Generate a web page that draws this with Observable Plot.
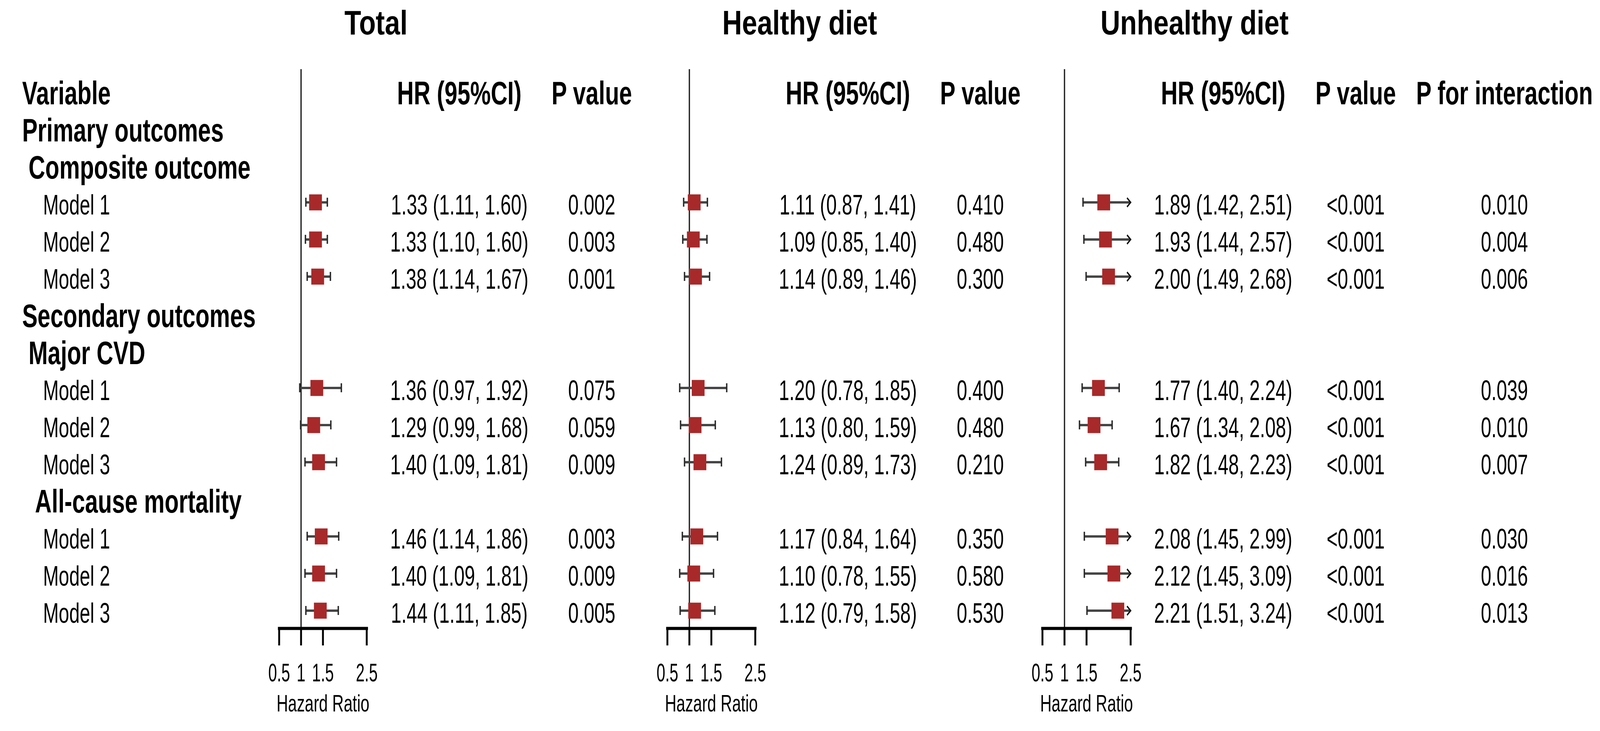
<!DOCTYPE html>
<html>
<head>
<meta charset="utf-8">
<script src="https://cdn.jsdelivr.net/npm/d3@7"></script>
<script src="https://cdn.jsdelivr.net/npm/@observablehq/plot@0.6"></script>
<style>
  html, body { margin: 0; padding: 0; background: #fff; overflow: hidden; }
  #chart { position: absolute; left: 0; top: 0; width: 5098px; height: 1871px; overflow: hidden;
           background: #fff; transform-origin: 0 0; }
  #chart > svg { position: absolute; left: 0; top: 0; }
  .title { position: absolute; white-space: nowrap; transform: translateX(-50%);
           font-family: "Liberation Sans", Arial, sans-serif; font-weight: bold; color: #000;
           font-size: 87px; line-height: 87px; top: 14px; }
</style>
</head>
<body>
<div id="chart"></div>
<script>
// ---------------- data ----------------
const rowLabels = [
  "Variable",
  "Primary outcomes",
  " Composite outcome",
  "    Model 1",
  "    Model 2",
  "    Model 3",
  "Secondary outcomes",
  " Major CVD",
  "    Model 1",
  "    Model 2",
  "    Model 3",
  "  All-cause mortality",
  "    Model 1",
  "    Model 2",
  "    Model 3"
];
const panelTitles = ["Total", "Healthy diet", "Unhealthy diet"];
const columnHeaders = ["HR (95%CI)", "P value", "P for interaction"];
const axisTicks = [0.5, 1, 1.5, 2.5];
const axisTitle = "Hazard Ratio";
const nullEffect = 1;

const totalHR    = [1.33, 1.33, 1.38, 1.36, 1.29, 1.40, 1.46, 1.40, 1.44];
const totalLower = [1.11, 1.10, 1.14, 0.97, 0.99, 1.09, 1.14, 1.09, 1.11];
const totalUpper = [1.60, 1.60, 1.67, 1.92, 1.68, 1.81, 1.86, 1.81, 1.85];
const totalP     = ["0.002", "0.003", "0.001", "0.075", "0.059", "0.009", "0.003", "0.009", "0.005"];

const healthyHR    = [1.11, 1.09, 1.14, 1.20, 1.13, 1.24, 1.17, 1.10, 1.12];
const healthyLower = [0.87, 0.85, 0.89, 0.78, 0.80, 0.89, 0.84, 0.78, 0.79];
const healthyUpper = [1.41, 1.40, 1.46, 1.85, 1.59, 1.73, 1.64, 1.55, 1.58];
const healthyP     = ["0.410", "0.480", "0.300", "0.400", "0.480", "0.210", "0.350", "0.580", "0.530"];

const unhealthyHR    = [1.89, 1.93, 2.00, 1.77, 1.67, 1.82, 2.08, 2.12, 2.21];
const unhealthyLower = [1.42, 1.44, 1.49, 1.40, 1.34, 1.48, 1.45, 1.45, 1.51];
const unhealthyUpper = [2.51, 2.57, 2.68, 2.24, 2.08, 2.23, 2.99, 3.09, 3.24];
const unhealthyP     = ["<0.001", "<0.001", "<0.001", "<0.001", "<0.001", "<0.001", "<0.001", "<0.001", "<0.001"];
const interactionP   = ["0.010", "0.004", "0.006", "0.039", "0.010", "0.007", "0.030", "0.016", "0.013"];

// ---------------- layout & style (reference pixels; the whole figure is fitted to the window) ----------------
const W = 5098, H = 1871;
const ROW0 = 232, ROWSTEP = 95;
const FRAME_TOP = 177, AXIS_Y = 1608;
const panelLayout = [
  {left: 889,  right: 1168, titleX: 1198},
  {left: 2126, right: 2406, titleX: 2548},
  {left: 3321, right: 3602, titleX: 3806}
];
const COL_DX = [295, 717, 1191];

function fontAvailable(name) {
  const ctx = document.createElement("canvas").getContext("2d");
  const str = "abcdefghijklmnopqrstuvwxyz ABCDEFGHIJKLM 0123456789";
  ctx.font = "72px monospace";
  const a = ctx.measureText(str).width;
  ctx.font = `72px "${name}", monospace`;
  const b = ctx.measureText(str).width;
  return Math.abs(a - b) > 0.5;
}
const narrow = fontAvailable("Liberation Sans Narrow");
const FONT = narrow ? '"Liberation Sans Narrow", "Arial Narrow", sans-serif' : '"Liberation Sans", Arial, sans-serif';
const k = narrow ? 1 / 0.82 : 1;
const fs = {reg: 60 * k, bold: 73.6 * k, tick: 50 * k, axisTitle: 50.7 * k};
const dyReg = narrow ? 8 : 7.6, dyBold = narrow ? 5 : 6.7;

const chart = document.getElementById("chart");
function fit() {
  const vw = window.innerWidth || document.documentElement.clientWidth || W;
  const vh = window.innerHeight || document.documentElement.clientHeight || H;
  chart.style.transform = `scale(${vw / W}, ${vh / H})`;
}
fit();
window.addEventListener("resize", fit);

const rows = d3.range(rowLabels.length);
const yScale = {
  type: "band", domain: rows, padding: 0, axis: null,
  range: [ROW0 - ROWSTEP / 2, ROW0 + (rows.length - 1) * ROWSTEP + ROWSTEP / 2]
};
const estimateRows = rows.filter(i => /^\s*Model/.test(rowLabels[i]));
const fmt = v => v.toFixed(2);
const chevron = {
  draw(ctx, size) {
    const h = Math.sqrt(size) / 2;
    ctx.moveTo(-h, -h); ctx.lineTo(0, 0); ctx.lineTo(-h, h);
  }
};
const baseStyle = {background: "transparent", color: "#000", fontFamily: FONT, overflow: "visible", maxWidth: "none"};

// the reference lettering is taller than it is wide: stretch glyphs vertically when no narrow face exists
function stretchText(svg) {
  if (narrow) return svg;
  for (const t of svg.querySelectorAll("text")) {
    const g = t.closest("[font-size]");
    const size = +(g ? g.getAttribute("font-size") : 0);
    const w = t.closest("[font-weight]");
    const bold = w && w.getAttribute("font-weight") === "bold";
    let f = 1.22;
    if (bold) f = 1.14;
    else if (Math.abs(size - fs.tick) < 0.01) f = 1.3;
    else if (Math.abs(size - fs.axisTitle) < 0.01) f = 1.2;
    const tr = t.getAttribute("transform") || "";
    t.setAttribute("transform", tr + ` scale(1,${f})`);
  }
  return svg;
}

// ---- row labels ----
const labelData = rows.map(i => ({
  row: i,
  text: rowLabels[i].replace(/^ +/, m => "\u00a0".repeat(m.length)),
  bold: !/^\s*Model/.test(rowLabels[i])
}));
chart.appendChild(stretchText(Plot.plot({
  width: W, height: H, margin: 0,
  marginTop: FRAME_TOP, marginBottom: H - AXIS_Y,
  x: {axis: null}, y: yScale,
  style: baseStyle,
  marks: [
    Plot.text(labelData.filter(d => d.bold), {
      y: "row", text: "text", frameAnchor: "left", textAnchor: "start",
      dx: 70, dy: dyBold, fontSize: fs.bold, fontWeight: "bold", fontFamily: FONT, fill: "#000"
    }),
    Plot.text(labelData.filter(d => !d.bold), {
      y: "row", text: "text", frameAnchor: "left", textAnchor: "start",
      dx: 70, dy: dyReg, fontSize: fs.reg, fontFamily: FONT, fill: "#000"
    })
  ]
})));

// ---- panels ----
const panels = [
  {hr: totalHR, lo: totalLower, hi: totalUpper, p: totalP},
  {hr: healthyHR, lo: healthyLower, hi: healthyUpper, p: healthyP},
  {hr: unhealthyHR, lo: unhealthyLower, hi: unhealthyUpper, p: unhealthyP, pint: interactionP}
];

panels.forEach((est, pi) => {
  const L = panelLayout[pi];
  const xMin = d3.min(axisTicks), xMax = d3.max(axisTicks);
  const data = estimateRows.map((row, j) => ({
    row, hr: est.hr[j], lo: est.lo[j], hi: est.hi[j],
    hiShown: Math.min(est.hi[j], xMax),
    label: `${fmt(est.hr[j])} (${fmt(est.lo[j])}, ${fmt(est.hi[j])})`,
    p: est.p[j], pint: est.pint ? est.pint[j] : null
  }));
  const headerCols = est.pint ? 3 : 2;
  const textCol = (values, dx, bold) => Plot.text(values, {
    y: "row", text: "text", frameAnchor: "right", textAnchor: "middle",
    dx, dy: bold ? dyBold : dyReg, fontSize: bold ? fs.bold : fs.reg,
    fontWeight: bold ? "bold" : "normal", fontFamily: FONT, fill: "#000"
  });
  const capInset = 36;
  const marks = [
    Plot.ruleX([nullEffect], {stroke: "#1b1b1b", strokeWidth: 4}),
    Plot.ruleY(data, {y: "row", x1: "lo", x2: "hiShown", stroke: "#454545", strokeWidth: 6}),
    Plot.tickX(data, {x: "lo", y: "row", stroke: "#2a2a2a", strokeWidth: 4.5, insetTop: capInset, insetBottom: capInset}),
    Plot.tickX(data.filter(d => d.hi <= xMax), {x: "hi", y: "row", stroke: "#2a2a2a", strokeWidth: 4.5, insetTop: capInset, insetBottom: capInset}),
    Plot.dot(data.filter(d => d.hi > xMax), {x: "hiShown", y: "row", symbol: chevron, r: 13, fill: "none", stroke: "#111", strokeWidth: 4}),
    Plot.dot(data, {x: "hr", y: "row", symbol: "square", r: 23, fill: "#a8292a", stroke: null}),
    Plot.frame({anchor: "bottom", stroke: "#000", strokeWidth: 8}),
    Plot.axisX({
      ticks: axisTicks, tickFormat: d => String(d), tickSize: 44, tickPadding: 45,
      strokeWidth: 6, stroke: "#000", fill: "#000", fontSize: fs.tick, fontFamily: FONT, label: null
    }),
    Plot.text([axisTitle], {frameAnchor: "bottom", lineAnchor: "top", dy: 169, fontSize: fs.axisTitle, fontFamily: FONT, fill: "#000"}),
    textCol(data.map(d => ({row: d.row, text: d.label})), COL_DX[0], false),
    textCol(data.map(d => ({row: d.row, text: d.p})), COL_DX[1], false)
  ];
  if (est.pint) marks.push(textCol(data.map(d => ({row: d.row, text: d.pint})), COL_DX[2], false));
  for (let c = 0; c < headerCols; c++) {
    marks.push(textCol([{row: 0, text: columnHeaders[c]}], COL_DX[c], true));
  }
  chart.appendChild(stretchText(Plot.plot({
    width: W, height: H,
    marginLeft: L.left, marginRight: W - L.right,
    marginTop: FRAME_TOP, marginBottom: H - AXIS_Y,
    x: {domain: [xMin, xMax], axis: null},
    y: yScale,
    style: baseStyle,
    marks
  })));

  const t = document.createElement("div");
  t.className = "title";
  t.textContent = panelTitles[pi];
  t.style.left = L.titleX + "px";
  chart.appendChild(t);
});
</script>
</body>
</html>
